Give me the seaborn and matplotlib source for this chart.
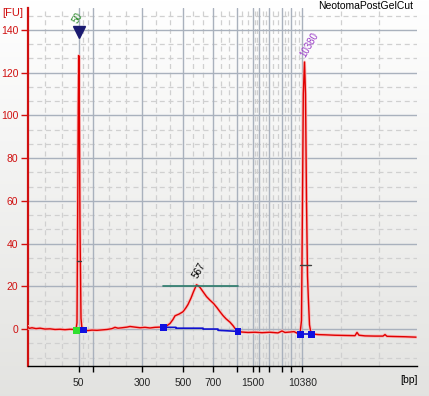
"""
Bioanalyzer electropherogram, NeotomaPostGelCut sample.
"""

import numpy as np
import pandas as pd
import matplotlib
matplotlib.use("Agg")
import matplotlib.pyplot as plt
import matplotlib.patheffects as pe
import seaborn as sns

# ── Data (x = migration time, arbitrary units) ──
trace_time = [0, 1, 4, 8, 12, 17, 22, 27, 32, 37, 42, 46, 48, 49, 49.6, 50.3, 50.8,
              51.3, 52, 53, 54, 56, 60, 64, 69, 74, 79, 84, 87, 90, 94, 99, 102, 107,
              112, 117, 122, 127, 132, 135, 139, 142, 145, 147, 151, 155, 158, 160,
              163, 165.5, 168.5, 170, 172, 175, 178.5, 182, 185.5, 189, 192, 195, 198,
              202, 205, 207, 210, 214, 220, 227, 234, 242, 250, 254, 257, 262, 266,
              269, 272, 273.5, 274.5, 275.3, 276.5, 277.5, 278.5, 279.5, 280.3, 281.5,
              283, 285, 290, 297, 307, 317, 327, 329, 331, 337, 347, 355, 357, 359,
              367, 377, 388]
trace_fu = [1.2, 0.3, 0.6, 0.2, 0.4, 0.0, 0.1, -0.2, -0.1, -0.3, -0.1, -0.2, -0.3, 3,
            47, 104, 128, 104, 47, 5, 0, -0.6, -0.7, -0.5, -0.6, -0.4, -0.2, 0.2, 0.8,
            0.4, 0.6, 0.9, 1.2, 0.9, 0.6, 0.8, 0.5, 0.8, 0.9, 1.0, 1.6, 2.6, 4.5, 6.2,
            7.0, 8.1, 10, 11.5, 14.5, 17.5, 20.7, 20.3, 19.5, 17.5, 15.2, 13.5, 12, 10,
            8.1, 6.3, 4.8, 3.2, 1.6, 0.3, -1.1, -1.4, -1.6, -1.5, -1.7, -1.5, -1.8,
            -0.9, -1.6, -1.4, -1.2, -1.9, -2.2, 4, 60, 110, 125, 110, 60, 25, 15, 2,
            -2.0, -2.3, -2.6, -2.7, -2.9, -3.0, -3.1, -1.6, -2.9, -3.2, -3.3, -3.3,
            -2.6, -3.4, -3.5, -3.6, -3.8]

# ladder positions on the time axis and their sizes
ladder_time = [50.7, 64.7, 114.3, 155.3, 185.3, 209.3, 224.7, 231.3, 241.3, 253.7,
               262.7, 274.5]
ladder_bp = [50, 100, 300, 500, 700, 1000, 1500, 2000, 3000, 5000, 7000, 10380]
labeled_bp = [50, 300, 500, 700, 1500, 10380]

# peak start / end markers
green_time, green_fu = [48.3], [-0.8]
blue_time = [55.3, 135.3, 210.0, 272.3, 283.3]
blue_fu = [-0.5, 0.8, -1.1, -2.5, -2.5]
smear_base_time = [135.3, 148, 148, 175, 175, 190, 190, 210.0]
smear_base_fu = [0.8, 0.8, 0.4, 0.4, 0.0, 0.0, -0.6, -1.1]
upper_base_time = [272.3, 283.3]
upper_base_fu = [-2.5, -2.5]

# peak labels
peak_labels = ["50", "567", "10380"]
peak_label_time = [51.5, 171.0, 279.0]
peak_label_fu = [142.5, 23.0, 126.5]
peak_label_colors = ["#2e8b2e", "#000000", "#9a3cc8"]

smear_region = [135.3, 210.0]
smear_level = 20.0
half_marks = [(49.0, 53.0, 32.0), (272.0, 282.7, 30.0)]

Y_MIN, Y_MAX = -17.3, 150.3
X_MAX = 388.7

trace = pd.DataFrame({"time": trace_time, "fu": trace_fu})

sns.set_style("white")
plt.rcParams["font.family"] = ["Liberation Sans", "DejaVu Sans"]

fig = plt.figure(figsize=(4.29, 3.96), dpi=100)

# light vertical gradient behind everything
bg = fig.add_axes([0, 0, 1, 1], zorder=0)
grad = np.linspace(0, 1, 256).reshape(-1, 1)
top = np.array([1.0, 1.0, 1.0])
bot = np.array([0.89, 0.89, 0.88])
img = top + (bot - top) * grad[..., None]
bg.imshow(np.repeat(img, 2, axis=1), aspect="auto", extent=[0, 1, 0, 1])
bg.axis("off")

ax = fig.add_axes([28 / 429, 30 / 396, 388.7 / 429, 358 / 396], zorder=1)
ax.patch.set_alpha(0)

# grid: solid at ladder / major ticks, dashed at thirds between them
x_major = [0] + ladder_time + [X_MAX]
y_major = list(range(-20, 160, 20))
dash = dict(color="#d0d0d0", lw=0.9, ls=(0, (4, 3)), zorder=1)
for a, b in zip(x_major[:-1], x_major[1:]):
    for f in (1 / 3, 2 / 3):
        ax.axvline(a + (b - a) * f, **dash)
for t in ladder_time:
    ax.axvline(t, color="#a9b1bd", lw=1.0, zorder=1.5)
for a in y_major:
    for f in (1 / 3, 2 / 3):
        ax.axhline(a + 20 * f, **dash)
    if a >= 0:
        ax.axhline(a, color="#a9b1bd", lw=1.0, zorder=1.5)

# electropherogram trace
sns.lineplot(data=trace, x="time", y="fu", ax=ax, color="#e00000", lw=1.0,
             sort=False, estimator=None, zorder=4,
             path_effects=[pe.Stroke(linewidth=2.2, foreground="#f8b8b8"), pe.Normal()])

# smear region bar and peak width marks
ax.plot(smear_region, [smear_level, smear_level], color="#2a7a6a", lw=1.2, zorder=5)
for x0, x1, yv in half_marks:
    ax.plot([x0, x1], [yv, yv], color="#404040", lw=1.0, zorder=5)

# baselines between start/end markers
ax.plot(smear_base_time, smear_base_fu, color="#1010d0", lw=1.2, zorder=5)
ax.plot(upper_base_time, upper_base_fu, color="#1010d0", lw=1.2, zorder=5)

sns.scatterplot(x=blue_time, y=blue_fu, ax=ax, color="#1010e0", marker="s", s=22,
                edgecolor="none", zorder=6)
sns.scatterplot(x=green_time, y=green_fu, ax=ax, color="#30e030", marker="s", s=22,
                edgecolor="none", zorder=6)
ax.plot([50.8], [139], marker="v", color="#1a1a70", markersize=8, zorder=7)

for txt, tx, ty, col in zip(peak_labels, peak_label_time, peak_label_fu,
                            peak_label_colors):
    ax.text(tx, ty, txt, color=col, fontsize=7, rotation=60, ha="left",
            va="bottom", rotation_mode="anchor", zorder=8)

# axes
ax.set_xlim(0, X_MAX)
ax.set_ylim(Y_MIN, Y_MAX)
ax.set_xlabel("")
ax.set_ylabel("")
ax.set_xticks(ladder_time)
ax.set_xticklabels([str(b) if b in labeled_bp else "" for b in ladder_bp],
                   fontsize=7.5)
ax.set_yticks(list(range(0, 160, 20)))
ax.set_yticklabels([str(v) for v in range(0, 160, 20)], fontsize=7.5, color="#d01010")
ax.tick_params(axis="x", direction="out", length=4, width=1, color="black", pad=5,
               bottom=True)
ax.tick_params(axis="y", direction="out", length=5, width=1, color="#d01010", pad=2,
               left=True)
for side in ("top", "right"):
    ax.spines[side].set_visible(False)
ax.spines["left"].set_color("#d01010")
ax.spines["left"].set_linewidth(1.6)
ax.spines["bottom"].set_color("black")
ax.spines["bottom"].set_linewidth(1.0)

fig.text(2 / 429, 1 - 13 / 396, "[FU]", color="#d01010", fontsize=8, va="center",
         ha="left")
fig.text(409 / 429, 1 - 380 / 396, "[bp]", color="black", fontsize=7.5, va="center",
         ha="center")
fig.text(413 / 429, 1 - 6 / 396, "NeotomaPostGelCut", color="black", fontsize=7.5,
         va="center", ha="right")

fig.savefig("out.png", dpi=100)
